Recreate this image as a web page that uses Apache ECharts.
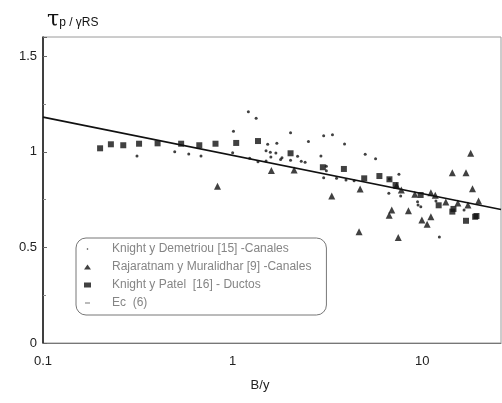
<!DOCTYPE html>
<html>
<head>
<meta charset="utf-8">
<script src="https://cdn.jsdelivr.net/npm/echarts@6/dist/echarts.min.js"></script>
<style>html,body{margin:0;padding:0;background:#fff}#c{width:502px;height:403px}</style>
</head>
<body>
<div id="c"></div>
<script>
const seriesNames = ['Knight y Demetriou [15] -Canales', 'Rajaratnam y Muralidhar [9] -Canales', 'Knight y Patel  [16] - Ductos', 'Ec  (6)'];
const xTicks = [0.1, 1, 10];
const yTicks = [0, 0.5, 1, 1.5];

const demetriou = [
  [0.313,0.978],[0.495,1.000],[0.587,0.988],[0.681,0.978],[1.21,1.209],[1.33,1.175],[1.01,1.107],
  [1.00,0.995],[1.23,0.966],[1.36,0.948],[1.50,0.952],[1.53,1.039],[1.71,1.045],[1.50,1.005],
  [1.58,0.998],[1.69,0.993],[1.59,0.973],[1.79,0.959],[2.02,1.100],[3.02,1.084],[3.36,1.089],
  [2.51,1.053],[3.89,1.041],[1.82,0.969],[2.20,0.976],[2.30,0.950],[2.41,0.945],[2.92,0.978],
  [3.12,0.924],[3.12,0.901],[3.02,0.864],[5.00,0.987],[5.67,0.964],[3.53,0.861],[3.96,0.852],
  [4.37,0.849],[7.53,0.882],[6.71,0.858],[6.66,0.783],[7.69,0.769],[9.44,0.739],[9.5,0.722],
  [9.82,0.713],[11.8,0.742],[16.6,0.695],[12.3,0.554],[2.02,0.955]
];
const rajaratnam = [
  [1.60,0.902],[2.11,0.905],[0.832,0.819],[3.33,0.769],[4.70,0.805],[7.32,0.824],[7.75,0.800],
  [9.13,0.778],[11.1,0.786],[11.7,0.772],[13.3,0.737],[15.4,0.732],[17.4,0.722],[19.8,0.742],
  [18.4,0.807],[18.0,0.992],[14.4,0.890],[17.0,0.890],[6.90,0.695],[6.69,0.668],[8.45,0.692],
  [11.1,0.660],[9.95,0.643],[10.6,0.621],[4.64,0.582],[7.47,0.552]
];
const patel = [
  [0.20,1.018],[0.228,1.039],[0.265,1.034],[0.321,1.042],[0.402,1.044],[0.535,1.042],[0.667,1.034],
  [0.812,1.042],[1.044,1.046],[1.36,1.056],[2.02,0.992],[2.99,0.919],[3.86,0.910],[4.94,0.861],
  [5.94,0.873],[6.71,0.856],[7.23,0.826],[9.8,0.774],[12.2,0.720],[14.6,0.701],[14.4,0.687],
  [17.0,0.639],[19.3,0.664],[19.0,0.660]
];
const ecLine = [[0.1,1.181],[26,0.698]];

const chart = echarts.init(document.getElementById('c'), null, {renderer:'canvas'});
const font = 'Liberation Sans, Arial, sans-serif';
chart.setOption({
  animation: false,
  backgroundColor: '#fff',
  title: {
    text: '{t|τ}{s|p / γRS}',
    left: 42, top: 4,
    textStyle: {
      fontWeight: 'normal',
      rich: {
        t: {fontSize: 22, fontWeight: 'normal', fontFamily: 'DejaVu Serif, serif', color: '#111'},
        s: {fontSize: 12, fontWeight: 'normal', fontFamily: font, color: '#111', padding: [6,0,0,0]}
      }
    }
  },
  grid: {left: 43, top: 37, right: 1, bottom: 60, show: true, borderColor: '#9a9a9a', borderWidth: 1},
  legend: {
    orient: 'vertical', left: 76, top: 238,
    padding: [5, 15, 6, 8],
    itemGap: 6, itemWidth: 7, itemHeight: 5,
    borderColor: '#777', borderWidth: 1, borderRadius: 10,
    backgroundColor: '#fff',
    textStyle: {fontFamily: font, fontSize: 12, color: '#858585', padding: [0,0,0,16]},
    data: [
      {name: seriesNames[0], icon: 'path://M0,0 M10,10 M3.4,5 A1.6,1.6 0 1,0 6.6,5 A1.6,1.6 0 1,0 3.4,5 Z'},
      {name: seriesNames[1], icon: 'triangle'},
      {name: seriesNames[2], icon: 'rect'},
      {name: seriesNames[3], icon: 'path://M0,0 M0,10 M0,4.2 L10,4.2 L10,5.8 L0,5.8 Z'}
    ]
  },
  xAxis: {
    type: 'log', logBase: 10, min: xTicks[0], max: 26,
    name: 'B/y', nameLocation: 'middle', nameGap: 36,
    nameTextStyle: {fontFamily: font, fontSize: 13, color: '#222', padding: [0, 24, 0, 0]},
    axisLine: {show: true, lineStyle: {color: '#777', width: 1}},
    axisTick: {show: false},
    splitLine: {show: false},
    minorTick: {show: false},
    axisLabel: {fontFamily: font, fontSize: 13, color: '#222', margin: 12, showMaxLabel: false,
      formatter: v => (xTicks.some(t => Math.abs(t - v) < 1e-9) ? String(v) : '')}
  },
  yAxis: {
    type: 'value', min: 0, max: 1.6, interval: 0.5,
    axisLine: {show: true, lineStyle: {color: '#111', width: 1.5}},
    axisTick: {show: true, inside: true, length: 4, lineStyle: {color: '#666'}},
    minorTick: {show: true, splitNumber: 2, length: 3, lineStyle: {color: '#888'}},
    splitLine: {show: false},
    axisLabel: {fontFamily: font, fontSize: 13, color: '#222', margin: 6,
      formatter: v => (yTicks.indexOf(v) >= 0 ? String(v) : '')}
  },
  series: [
    {name: seriesNames[0], type: 'scatter', data: demetriou, symbol: 'circle', symbolSize: 3,
      itemStyle: {color: '#111'}, z: 3},
    {name: seriesNames[1], type: 'scatter', data: rajaratnam, symbol: 'triangle', symbolSize: 7,
      itemStyle: {color: '#111'}, z: 3},
    {name: seriesNames[2], type: 'scatter', data: patel, symbol: 'rect', symbolSize: 6,
      itemStyle: {color: '#111'}, z: 3},
    {name: seriesNames[3], type: 'line', data: ecLine, symbol: 'none',
      lineStyle: {color: '#111', width: 1.6}, itemStyle: {color: '#555'}, z: 2}
  ]
});
</script>
</body>
</html>
